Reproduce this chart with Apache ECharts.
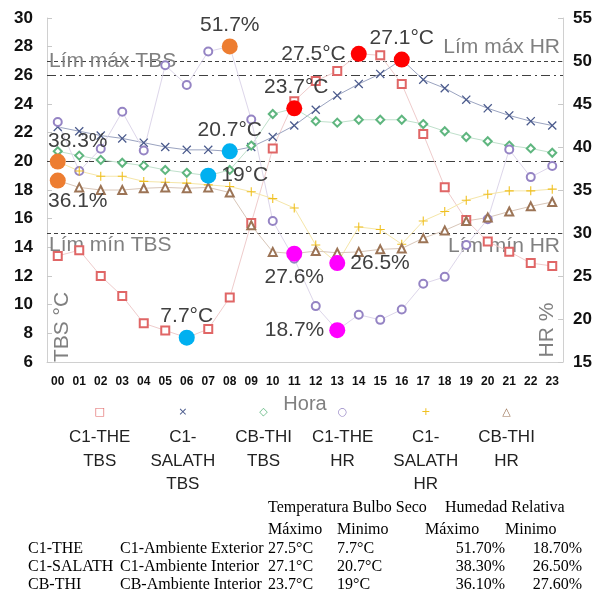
<!DOCTYPE html>
<html>
<head>
<meta charset="utf-8">
<script src="https://cdn.jsdelivr.net/npm/echarts@6/dist/echarts.min.js"></script>
<style>
html, body { margin: 0; padding: 0; background: #fff; }
#main { width: 600px; height: 596px; }
</style>
</head>
<body>
<div id="main"></div>
<script>
var hours = ['00','01','02','03','04','05','06','07','08','09','10','11','12','13','14','15','16','17','18','19','20','21','22','23'];

// TBS (°C), eje izquierdo
var c1theTbs = [13.4, 13.8, 12.0, 10.6, 8.7, 8.2, 7.7, 8.3, 10.5, 15.7, 20.9, 24.2, 25.6, 26.3, 27.5, 27.4, 25.4, 21.9, 18.2, 15.9, 14.4, 13.7, 12.9, 12.7];
var c1salTbs = [22.4, 22.1, 21.8, 21.6, 21.3, 21.0, 20.8, 20.8, 20.7, 21.0, 21.7, 22.5, 23.6, 24.6, 25.4, 26.1, 27.1, 25.7, 25.1, 24.3, 23.7, 23.2, 22.8, 22.5];
var cbthiTbs = [20.7, 20.4, 20.1, 19.9, 19.7, 19.4, 19.2, 19.0, 19.4, 21.1, 23.3, 23.7, 22.8, 22.7, 22.9, 22.9, 22.9, 22.6, 22.1, 21.7, 21.4, 21.1, 20.9, 20.6];

// HR (%), eje derecho
var c1theHr = [42.9, 37.2, 39.8, 44.1, 39.6, 49.5, 47.2, 51.1, 51.7, 43.2, 31.4, 27.0, 21.5, 18.7, 20.5, 19.9, 21.1, 24.1, 24.9, 28.6, 31.6, 39.7, 36.5, 37.8];
var c1salHr = [38.3, 37.2, 36.6, 36.6, 36.0, 35.9, 35.8, 35.6, 35.4, 34.8, 34.0, 32.9, 28.6, 26.5, 30.7, 30.4, 28.7, 31.4, 32.5, 33.8, 34.5, 34.9, 34.9, 35.1];
var cbthiHr = [36.1, 35.3, 35.0, 35.0, 35.2, 35.3, 35.2, 35.3, 34.7, 30.9, 27.8, 27.6, 27.9, 27.7, 27.8, 28.1, 28.2, 29.4, 30.3, 31.4, 31.8, 32.5, 33.1, 33.6];

var names = ['C1-THE TBS', 'C1-SALATH TBS', 'CB-THI TBS', 'C1-THE HR', 'C1-SALATH HR', 'CB-THI HR'];
var legendLines = [['C1-THE','TBS'], ['C1-','SALATH','TBS'], ['CB-THI','TBS'], ['C1-THE','HR'], ['C1-','SALATH','HR'], ['CB-THI','HR']];
var glyphs = ['\u25A1', '\u00D7', '\u25C7', '\u25CB', '+', '\u25B3'];

// límites
var tbsMax = 27, tbsMin = 15, hrMax = 50, hrMin = 30;
var confort = [26, 20];

// tabla
var tblCodes = ['C1-THE', 'C1-SALATH', 'CB-THI'];
var tblDesc = ['C1-Ambiente Exterior', 'C1-Ambiente Interior', 'CB-Ambiente Interior'];

var sans = "'Liberation Sans', Arial, sans-serif";
var colors = ['#e06666', '#4a5a8c', '#5fb67f', '#9584c4', '#f0c020', '#9c7456'];
var lineColors = ['#efcccc', '#9aa3c0', '#bfe0cb', '#ddd6ea', '#f5e6a8', '#d8c6b8'];
var symbols = [
  'emptyRect',
  'path://M0,1L1,0L10,9L9,10Z M9,0L10,1L1,10L0,9Z',
  'emptyDiamond',
  'emptyCircle',
  'path://M4.4,0H5.6V4.4H10V5.6H5.6V10H4.4V5.6H0V4.4H4.4Z',
  'emptyTriangle'
];
var allData = [c1theTbs, c1salTbs, cbthiTbs, c1theHr, c1salHr, cbthiHr];

var labelStyle = { color: '#404040', fontSize: 21, fontFamily: sans };

function mp(type, color, unit, pos, offset) {
  return {
    type: type,
    itemStyle: { color: color },
    label: Object.assign({ show: true, position: pos, offset: offset || [0, 0], formatter: '{c}' + unit }, labelStyle)
  };
}

var marks = [
  [mp('max', '#ff0000', '°C', 'left'), mp('min', '#00b0f0', '°C', 'top', [0, 2])],
  [mp('max', '#ff0000', '°C', 'top', [0, 2]), mp('min', '#00b0f0', '°C', 'top', [0, 2])],
  [mp('max', '#ff0000', '°C', 'top', [2, 2]), mp('min', '#00b0f0', '°C', 'right')],
  [mp('max', '#ed7d31', '%', 'top', [0, 2]), mp('min', '#ff00ff', '%', 'left')],
  [mp('max', '#ed7d31', '%', 'top', [20, 3]), mp('min', '#ff00ff', '%', 'right')],
  [mp('max', '#ed7d31', '%', 'bottom', [20, -3]), mp('min', '#ff00ff', '%', 'bottom')]
];

var limLabel = { color: '#808080', fontSize: 21, fontFamily: sans };

var series = names.map(function (n, i) {
  return {
    name: n,
    type: 'line',
    yAxisIndex: i < 3 ? 0 : 1,
    data: allData[i],
    symbol: symbols[i],
    symbolSize: (i == 1 || i == 4) ? 9 : 8,
    itemStyle: { color: colors[i], borderWidth: (i == 1 || i == 4) ? 0 : 1 },
    lineStyle: { color: lineColors[i], width: 1 },
    z: 3,
    markPoint: {
      symbol: 'circle',
      symbolSize: 16,
      z: 10,
      data: marks[i]
    }
  };
});

series[0].markLine = {
  symbol: ['none', 'none'],
  silent: true,
  z: 2,
  data: [
    { yAxis: tbsMax, lineStyle: { color: '#404040', width: 1, type: [4, 3] },
      label: Object.assign({ show: true, position: 'start', align: 'left', distance: -2, formatter: 'Lím máx TBS' }, limLabel) },
    { yAxis: confort[0], lineStyle: { color: '#404040', width: 1, type: [9, 4, 2, 4] }, label: { show: false } },
    { yAxis: confort[1], lineStyle: { color: '#404040', width: 1, type: [9, 4, 2, 4] }, label: { show: false } },
    { yAxis: tbsMin, lineStyle: { color: '#404040', width: 1, type: [4, 3] },
      label: Object.assign({ show: true, position: 'insideStartBottom', distance: 2, formatter: 'Lím mín TBS' }, limLabel) }
  ]
};
series[3].markLine = {
  symbol: ['none', 'none'],
  silent: true,
  z: 2,
  data: [
    { yAxis: hrMax, lineStyle: { color: '#404040', width: 1, type: [4, 3] },
      label: Object.assign({ show: true, position: 'insideEndTop', distance: 3, formatter: 'Lím máx HR' }, limLabel) },
    { yAxis: hrMin, lineStyle: { color: '#404040', width: 1, type: [4, 3] },
      label: Object.assign({ show: true, position: 'insideEndBottom', distance: 3, formatter: 'Lím mín HR' }, limLabel) }
  ]
};

// rich text para la leyenda: símbolo arriba, nombre abajo
var rich = { t: { fontSize: 17, fontFamily: sans, color: '#222', align: 'center', lineHeight: 23.5 } };
glyphs.forEach(function (g, i) {
  rich['s' + i] = { fontSize: 11, fontFamily: 'DejaVu Sans', color: colors[i], align: 'center', lineHeight: 27 };
});

// tabla de máximos / mínimos calculada de las series
function fmt(v) { return String(Math.round(v * 10) / 10); }
var graphics = [
  { type: 'text', x: 62, y: 327, rotation: Math.PI / 2,
    style: { text: 'TBS °C', fill: '#808080', font: '21px ' + sans, align: 'center', verticalAlign: 'middle' } },
  { type: 'text', x: 547, y: 330, rotation: Math.PI / 2,
    style: { text: 'HR %', fill: '#808080', font: '21px ' + sans, align: 'center', verticalAlign: 'middle' } }
];
var serif = "16px 'Liberation Serif', 'Times New Roman', serif";
function tx(t, x, y, align) {
  graphics.push({ type: 'text', x: x, y: y, style: { text: t, fill: '#000', font: serif, align: align || 'left', verticalAlign: 'middle' } });
}
tx('Temperatura Bulbo Seco', 268, 508);
tx('Humedad Relativa', 445, 508);
tx('Máximo', 268, 530);
tx('Minimo', 337, 530);
tx('Máximo', 425, 530);
tx('Minimo', 505, 530);
tblCodes.forEach(function (c, r) {
  var y = 549 + r * 18;
  var tbs = allData[r], hr = allData[r + 3];
  tx(c, 28, y);
  tx(tblDesc[r], 120, y);
  tx(fmt(Math.max.apply(null, tbs)) + '°C', 268, y);
  tx(fmt(Math.min.apply(null, tbs)) + '°C', 337, y);
  tx(Math.max.apply(null, hr).toFixed(2) + '%', 505, y, 'right');
  tx(Math.min.apply(null, hr).toFixed(2) + '%', 582, y, 'right');
});

var chart = echarts.init(document.getElementById('main'), null, { renderer: 'canvas' });
chart.setOption({
  animation: false,
  backgroundColor: '#fff',
  grid: { left: 47, right: 37, top: 18, bottom: 234 },
  legend: {
    data: names,
    left: 58,
    top: 402,
    width: 560,
    itemWidth: 0,
    itemHeight: 0,
    itemGap: 14,
    itemStyle: { opacity: 0 },
    lineStyle: { opacity: 0 },
    formatter: function (name) {
      var i = names.indexOf(name);
      var ls = legendLines[i].slice();
      while (ls.length < 3) ls.push(' ');
      return '{s' + i + '|' + glyphs[i] + '}\n' + ls.map(function (l) { return '{t|' + l + '}'; }).join('\n');
    },
    textStyle: { rich: rich }
  },
  xAxis: {
    type: 'category',
    data: hours,
    name: 'Hora',
    nameLocation: 'middle',
    nameGap: 32,
    nameTextStyle: { color: '#808080', fontSize: 20, fontFamily: sans },
    axisLine: { lineStyle: { color: '#d0d0d0' } },
    axisTick: { inside: true, length: 5, lineStyle: { color: '#c8c8c8' } },
    axisLabel: { color: '#111', fontSize: 12, fontWeight: 'bold', fontFamily: sans, margin: 14 }
  },
  yAxis: [
    {
      type: 'value', min: 6, max: 30, interval: 2,
      axisLine: { show: true, lineStyle: { color: '#d0d0d0' } },
      axisTick: { show: true, inside: true, length: 5, lineStyle: { color: '#c8c8c8' } },
      splitLine: { show: false },
      axisLabel: { color: '#111', fontSize: 17, fontWeight: 'bold', fontFamily: sans, margin: 14 }
    },
    {
      type: 'value', min: 15, max: 55, interval: 5,
      axisLine: { show: true, lineStyle: { color: '#d0d0d0' } },
      axisTick: { show: true, inside: true, length: 5, lineStyle: { color: '#c8c8c8' } },
      splitLine: { show: false },
      axisLabel: { color: '#111', fontSize: 17, fontWeight: 'bold', fontFamily: sans, margin: 10 }
    }
  ],
  series: series,
  graphic: graphics
});
</script>
</body>
</html>
